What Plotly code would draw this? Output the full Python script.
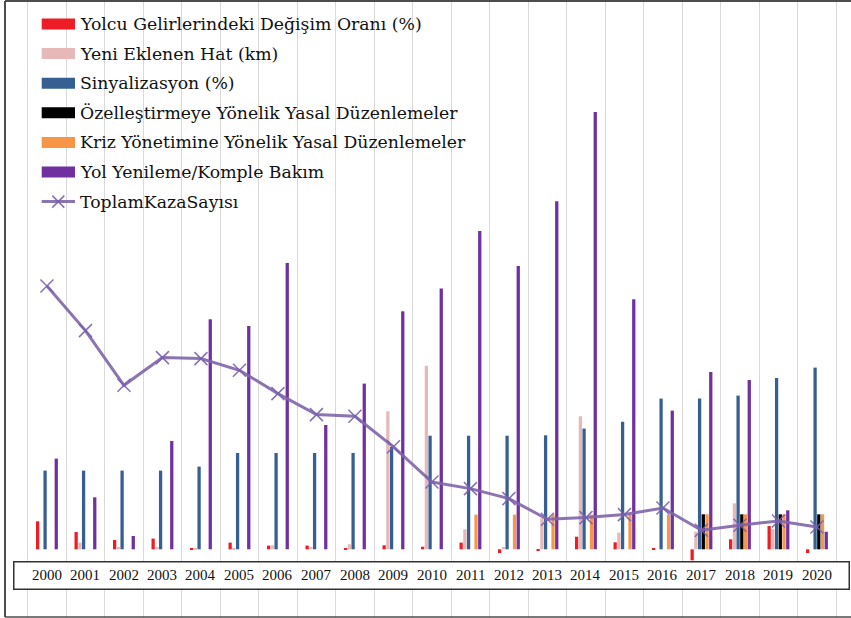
import plotly.graph_objects as go

W, H = 851, 618

years = [str(y) for y in range(2000, 2021)]

# Series values (relative units, common scale)
yolcu_gelir = [28, 17.3, 9.3, 10.7, 1.3, 6.7, 3.7, 3.7, 1, 4, 2.6, 6.7, -3.7, -1, 12.6, 7, 1, -11, 10, 23.3, -3.7]
yeni_hat = [0, 6.7, 2.3, 2.3, 1, 1, 4, 2.3, 5, 138, 183.6, 20, 2.3, 31, 133, 16.6, 0, 17.6, 46, 20, 0]
sinyalizasyon = [78.7, 78.7, 78.7, 78.7, 82.7, 96.3, 96.3, 96.3, 96.3, 102.3, 113.6, 113.6, 113.6, 114, 120.7, 127.6, 150.7, 150.7, 153.7, 171.3, 181.7]
ozellestirme = [0, 0, 0, 0, 0, 0, 0, 0, 0, 0, 0, 0, 0, 0, 0, 0, 0, 35, 35, 35, 35]
kriz = [0, 0, 0, 0, 0, 0, 0, 0, 0, 0, 0, 34.7, 34.7, 35, 34.7, 34.7, 34.7, 35, 35, 35, 35]
yol_yenileme = [90.7, 52, 13.3, 108.3, 230, 223.3, 286.3, 124.3, 165.7, 238, 260.7, 318.3, 283.3, 348, 437.3, 250, 138.7, 177.3, 169.3, 39, 17.6]
toplam_kaza = [263.3, 218.7, 164, 191.7, 190.7, 179, 155.7, 134.7, 133, 102.5, 67.3, 60.7, 50.7, 30, 31.7, 34.7, 41.3, 19, 24, 28.3, 22.3]

bar_series = [
    ("Yolcu Gelirlerindeki Değişim Oranı (%)", yolcu_gelir, "#EE1C25"),
    ("Yeni Eklenen Hat (km)", yeni_hat, "#E6B9B8"),
    ("Sinyalizasyon (%)", sinyalizasyon, "#376092"),
    ("Özelleştirmeye Yönelik Yasal Düzenlemeler", ozellestirme, "#000000"),
    ("Kriz Yönetimine Yönelik Yasal Düzenlemeler", kriz, "#F79646"),
    ("Yol Yenileme/Komple Bakım", yol_yenileme, "#7030A0"),
]
line_name = "ToplamKazaSayısı"
line_color = "rgba(128,100,170,0.9)"

LEGEND_FONT = "DejaVu Serif"
TICK_FONT = "Liberation Serif"

fig = go.Figure()
for name, vals, col in bar_series:
    fig.add_trace(go.Bar(x=years, y=vals, name=name, marker_color=col,
                         marker_line_width=0, showlegend=False))

fig.add_trace(go.Scatter(
    x=years, y=toplam_kaza, name=line_name, mode="lines+markers",
    line=dict(color=line_color, width=3),
    marker=dict(symbol="x-thin", size=13, line=dict(color="rgba(120,95,175,0.9)", width=1.5)),
    showlegend=False))

def px(x):
    return x / W

def py(y):
    return 1 - y / H

shapes = []
annotations = []

# outer frame (left, top, bottom edges)
frame_col = "#4d4d4d"
shapes.append(dict(type="line", xref="paper", yref="paper", x0=px(5), x1=px(5), y0=py(1), y1=py(617),
                   line=dict(color=frame_col, width=2)))
shapes.append(dict(type="line", xref="paper", yref="paper", x0=px(5), x1=1, y0=py(1), y1=py(1),
                   line=dict(color=frame_col, width=2)))
shapes.append(dict(type="line", xref="paper", yref="paper", x0=px(5), x1=1, y0=py(617), y1=py(617),
                   line=dict(color=frame_col, width=1.5)))

# boxed category label strip: an empty framed annotation drawn before the labels
annotations.append(dict(x=px(13), y=py(561), xref="paper", yref="paper", text=" ",
                        showarrow=False, xanchor="left", yanchor="top",
                        width=834, height=26, borderpad=0,
                        bgcolor="white", bordercolor="#333333", borderwidth=1.5))

for i, yr in enumerate(years):
    annotations.append(dict(x=i, xref="x", y=py(575), yref="paper", text=yr, showarrow=False,
                            xanchor="center", yanchor="middle",
                            font=dict(family=TICK_FONT, size=15, color="#111111")))

# dotted underline under the first labels
shapes.append(dict(type="line", xref="paper", yref="paper", layer="above",
                   x0=px(33), x1=px(102), y0=py(581.5), y1=py(581.5),
                   line=dict(color="#4a6fd0", width=1.2, dash="dot")))

# legend block
row0, step = 24, 29.6
for i, (name, vals, col) in enumerate(bar_series):
    cy = row0 + i * step
    shapes.append(dict(type="rect", xref="paper", yref="paper", layer="above",
                       x0=px(41.7), x1=px(75), y0=py(cy + 5.5), y1=py(cy - 5.5),
                       fillcolor=col, line=dict(width=0)))
    annotations.append(dict(x=px(78), y=py(cy), xref="paper", yref="paper", text=name,
                            showarrow=False, xanchor="left", yanchor="middle",
                            font=dict(family=LEGEND_FONT, size=17.3, color="#111111")))
cy = row0 + 6 * step
shapes.append(dict(type="line", xref="paper", yref="paper", layer="above",
                   x0=px(41.7), x1=px(75), y0=py(cy), y1=py(cy),
                   line=dict(color=line_color, width=3)))
for dx, dy in ((-6, -6), (-6, 6)):
    shapes.append(dict(type="line", xref="paper", yref="paper", layer="above",
                       x0=px(58.3 + dx), x1=px(58.3 - dx), y0=py(cy + dy), y1=py(cy - dy),
                       line=dict(color="rgba(120,95,175,0.9)", width=1.5)))
annotations.append(dict(x=px(78), y=py(cy), xref="paper", yref="paper", text=line_name,
                        showarrow=False, xanchor="left", yanchor="middle",
                        font=dict(family=LEGEND_FONT, size=17.3, color="#111111")))

# value scale: zero line sits at y=549.3 px
zero_px = 549.3
ymax = zero_px
ymin = zero_px - H

cat_px = 38.5
first_boundary = 27.7
x_lo = -0.5 - first_boundary / cat_px
x_hi = x_lo + W / cat_px

fig.update_layout(
    width=W, height=H,
    margin=dict(l=0, r=0, t=0, b=0),
    paper_bgcolor="white", plot_bgcolor="white",
    barmode="group", bargap=0.42, bargroupgap=0.12,
    showlegend=False,
    xaxis=dict(type="category", range=[x_lo, x_hi], tickson="boundaries",
               showgrid=True, gridcolor="#d9d9d9", gridwidth=1.2,
               showticklabels=False, ticks="", zeroline=False, showline=False),
    yaxis=dict(range=[ymin, ymax], showgrid=False, zeroline=False,
               showticklabels=False, showline=False),
    shapes=shapes, annotations=annotations,
)

fig.write_html("out.html")
